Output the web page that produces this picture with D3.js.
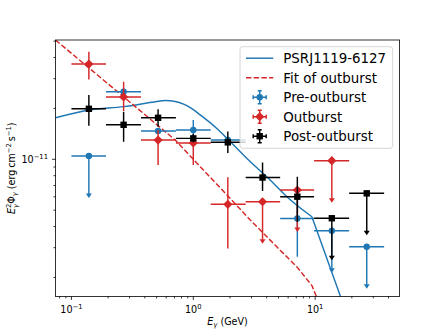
<!DOCTYPE html>
<html>
<head>
  <meta charset="utf-8">
  <script src="https://cdn.jsdelivr.net/npm/d3@7/dist/d3.min.js"></script>
  <style>
    body { margin: 0; background: #fff; }
    text { font-family: "DejaVu Sans", sans-serif; fill: #000; }
  </style>
</head>
<body>
<svg id="chart" width="444" height="333"></svg>
<script>
  // energy bins (GeV)
  var binCenter = [0.139, 0.268, 0.514, 1.00, 1.92, 3.70, 7.14, 13.7, 26.5];
  var binLo     = [0.100, 0.192, 0.372, 0.720, 1.39, 2.69, 5.16, 9.80, 19.0];
  var binHi     = [0.192, 0.372, 0.720, 1.39, 2.69, 5.16, 9.80, 19.0, 36.8];

  // pulsar model curve  [E, E^2 Phi]
  var modelCurve = [[0.074, 1.76e-11], [0.139, 1.96e-11], [0.268, 2.05e-11], [0.489, 2.19e-11],
                    [0.589, 2.23e-11], [0.711, 2.20e-11], [0.832, 2.12e-11], [0.945, 2.02e-11],
                    [1.14, 1.83e-11], [1.56, 1.52e-11], [1.95, 1.30e-11], [2.84, 9.9e-12],
                    [4.27, 7.55e-12], [5.86, 6.01e-12], [9.4, 4.57e-12]];
  var modelTail  = [[9.4, 4.57e-12], [16.0, 1.57e-12], [19.4, 1.05e-12]];

  // fit of the outburst
  var fitCurve = [[0.074, 5.08e-11], [0.2296, 2.57e-11], [0.711, 1.30e-11], [1.14, 9.04e-12],
                  [1.89, 6.15e-12], [2.93, 4.38e-12], [5.16, 2.90e-12], [7.08, 2.31e-12], [9.4, 1.79e-12]];
  var fitTail  = [[9.4, 1.79e-12], [16.0, 7.1e-13]];

  // rows: [bin, flux, flux high, flux low, upper limit]
  var preOutburst = [
    [0, 1.046e-11, null, 6.23e-12, 1],
    [1, 2.51e-11, 2.64e-11, 2.40e-11, 0],
    [2, 1.47e-11, 1.53e-11, 1.41e-11, 0],
    [3, 1.49e-11, 1.71e-11, 1.32e-11, 0],
    [4, 1.30e-11, 1.35e-11, 1.25e-11, 0],
    [6, 4.47e-12, 5.73e-12, 2.65e-12, 0],
    [7, 3.78e-12, null, 2.25e-12, 1],
    [8, 3.04e-12, null, 1.81e-12, 1]
  ];
  var outburst = [
    [0, 3.66e-11, 4.33e-11, 2.97e-11, 0],
    [1, 2.34e-11, 2.88e-11, 1.93e-11, 0],
    [2, 1.30e-11, 1.49e-11, 9.25e-12, 0],
    [3, 1.25e-11, 1.39e-11, 9.25e-12, 0],
    [4, 5.42e-12, 7.82e-12, 2.97e-12, 0],
    [5, 5.61e-12, null, 3.34e-12, 1],
    [6, 6.58e-12, null, 3.92e-12, 1],
    [7, 9.81e-12, null, 5.85e-12, 1]
  ];
  var postOutburst = [
    [0, 1.99e-11, 2.40e-11, 1.58e-11, 0],
    [1, 1.60e-11, 1.91e-11, 1.27e-11, 0],
    [2, 1.76e-11, 1.98e-11, 1.56e-11, 0],
    [3, 1.33e-11, 1.41e-11, 1.26e-11, 0],
    [4, 1.26e-11, 1.46e-11, 1.09e-11, 0],
    [5, 7.80e-12, 9.57e-12, 6.49e-12, 0],
    [6, 6.01e-12, 7.89e-12, 4.26e-12, 0],
    [7, 4.48e-12, null, 2.67e-12, 1],
    [8, 6.29e-12, null, 3.75e-12, 1]
  ];

  var xTicks = [0.1, 1, 10];
  var xTickExp = ["\u22121", "0", "1"];
  var yTicks = [1e-11];
  var yTickExp = ["\u221211"];

  var blue = "#1f77b4", red = "#d62728", black = "#000000";

  var W = 444, H = 333;
  var pL = 55.5, pR = 399.6, pT = 40, pB = 296.4;
  var svg = d3.select("#chart");
  svg.append("rect").attr("width", W).attr("height", H).attr("fill", "#fff");

  var x = d3.scaleLog().domain([0.074, 49.3]).range([pL, pR]);
  var y = d3.scaleLog().domain([1.545e-12, 5.08e-11]).range([pB, pT]);

  svg.append("clipPath").attr("id", "clip")
    .append("rect").attr("x", pL).attr("y", pT)
    .attr("width", pR - pL).attr("height", pB - pT);

  // minor ticks
  function minors(lo, hi) {
    var out = [];
    for (var e = Math.floor(Math.log10(lo)); e <= Math.ceil(Math.log10(hi)); e++) {
      for (var m = 2; m <= 9; m++) {
        var v = m * Math.pow(10, e);
        if (v >= lo && v <= hi) out.push(v);
      }
    }
    return out;
  }
  var xMinor = minors(0.074, 49.3), yMinor = minors(1.545e-12, 5.08e-11);

  var axes = svg.append("g").attr("stroke", "#000").attr("stroke-width", 0.8);
  axes.selectAll(".xmaj").data(xTicks).enter().append("line")
    .attr("x1", d => x(d)).attr("x2", d => x(d)).attr("y1", pB).attr("y2", pB + 3.5);
  axes.selectAll(".xmin").data(xMinor).enter().append("line")
    .attr("x1", d => x(d)).attr("x2", d => x(d)).attr("y1", pB).attr("y2", pB + 2);
  axes.selectAll(".ymaj").data(yTicks).enter().append("line")
    .attr("y1", d => y(d)).attr("y2", d => y(d)).attr("x1", pL).attr("x2", pL - 3.5);
  axes.selectAll(".ymin").data(yMinor).enter().append("line")
    .attr("y1", d => y(d)).attr("y2", d => y(d)).attr("x1", pL).attr("x2", pL - 2);

  // tick labels
  var xl = svg.selectAll(".xlab").data(xTicks).enter().append("text")
    .attr("x", d => x(d)).attr("y", pB + 16.5).attr("text-anchor", "middle")
    .style("font-size", "9.6px");
  xl.append("tspan").text("10");
  xl.append("tspan").attr("dy", -4).style("font-size", "6.8px").text((d, i) => xTickExp[i]);

  var yl = svg.selectAll(".ylab").data(yTicks).enter().append("text")
    .attr("x", pL - 7.5).attr("y", d => y(d) + 3.5).attr("text-anchor", "end")
    .style("font-size", "9.6px");
  yl.append("tspan").text("10");
  yl.append("tspan").attr("dy", -4).style("font-size", "6.8px").text((d, i) => yTickExp[i]);

  // axis labels
  var xlabel = svg.append("text").attr("x", (pL + pR) / 2).attr("y", 325)
    .attr("text-anchor", "middle").style("font-size", "9.6px");
  xlabel.append("tspan").style("font-style", "italic").text("E");
  xlabel.append("tspan").style("font-style", "italic").style("font-size", "6.8px").attr("dy", 2).text("\u03b3");
  xlabel.append("tspan").attr("dy", -2).text(" (GeV)");

  var ylabel = svg.append("text")
    .attr("transform", "translate(15," + ((pT + pB) / 2) + ") rotate(-90)")
    .attr("text-anchor", "middle").style("font-size", "9.6px");
  ylabel.append("tspan").style("font-style", "italic").text("E");
  ylabel.append("tspan").style("font-size", "6.8px").attr("dy", -4).text("2");
  ylabel.append("tspan").style("font-size", "6.8px").style("font-style", "italic")
    .attr("dx", -4.3).attr("dy", 6.5).text("\u03b3");
  ylabel.append("tspan").attr("dy", -2.5).text("\u03a6");
  ylabel.append("tspan").style("font-size", "6.8px").style("font-style", "italic")
    .attr("dy", 2).text("\u03b3");
  ylabel.append("tspan").attr("dy", -2).text(" (erg\u2009cm");
  ylabel.append("tspan").style("font-size", "6.8px").attr("dy", -4).text("\u22122");
  ylabel.append("tspan").attr("dy", 4).text("\u2009s");
  ylabel.append("tspan").style("font-size", "6.8px").attr("dy", -4).text("\u22121");
  ylabel.append("tspan").attr("dy", 4).text(")");

  // curves
  var plot = svg.append("g").attr("clip-path", "url(#clip)");
  var smooth = d3.line().x(d => x(d[0])).y(d => y(d[1])).curve(d3.curveMonotoneX);
  var straight = d3.line().x(d => x(d[0])).y(d => y(d[1]));

  plot.append("path").datum(modelCurve).attr("d", smooth)
    .attr("fill", "none").attr("stroke", blue).attr("stroke-width", 1.45);
  plot.append("path").datum(modelTail).attr("d", straight)
    .attr("fill", "none").attr("stroke", blue).attr("stroke-width", 1.45);
  plot.append("path").datum(fitCurve.concat(fitTail.slice(1))).attr("d", straight)
    .attr("fill", "none").attr("stroke", red).attr("stroke-width", 1.45)
    .attr("stroke-dasharray", "5.4,2.3");

  function marker(sel, kind, color, s) {
    if (kind === "circle") {
      sel.append("circle").attr("r", s / 2).attr("fill", color);
    } else if (kind === "square") {
      sel.append("rect").attr("x", -s / 2).attr("y", -s / 2).attr("width", s).attr("height", s).attr("fill", color);
    } else {
      var h = s * 0.72;
      sel.append("path").attr("d", "M0," + (-h) + "L" + h + ",0L0," + h + "L" + (-h) + ",0Z").attr("fill", color);
    }
  }

  function errorSeries(rows, color, kind) {
    var g = plot.append("g");
    var pts = g.selectAll("g").data(rows).enter().append("g");
    pts.append("line")
      .attr("x1", d => x(binLo[d[0]])).attr("x2", d => x(binHi[d[0]]))
      .attr("y1", d => y(d[1])).attr("y2", d => y(d[1]))
      .attr("stroke", color).attr("stroke-width", 1.45);
    pts.append("line")
      .attr("x1", d => x(binCenter[d[0]])).attr("x2", d => x(binCenter[d[0]]))
      .attr("y1", d => d[4] ? y(d[1]) : y(d[2])).attr("y2", d => y(d[3]))
      .attr("stroke", color).attr("stroke-width", 1.45);
    pts.filter(d => d[4]).append("path")
      .attr("d", d => {
        var cx = x(binCenter[d[0]]), cy = y(d[3]);
        return "M" + (cx - 3) + "," + (cy - 0.5) + "L" + (cx + 3) + "," + (cy - 0.5) + "L" + cx + "," + (cy + 4) + "Z";
      })
      .attr("fill", color);
    pts.append("g")
      .attr("transform", d => "translate(" + x(binCenter[d[0]]) + "," + y(d[1]) + ")")
      .each(function () { marker(d3.select(this), kind, color, 6.4); });
  }

  errorSeries(preOutburst, blue, "circle");
  errorSeries(outburst, red, "diamond");
  errorSeries(postOutburst, black, "square");

  // frame
  svg.append("rect").attr("x", pL).attr("y", pT)
    .attr("width", pR - pL).attr("height", pB - pT)
    .attr("fill", "none").attr("stroke", "#000").attr("stroke-width", 0.8);

  // legend
  var leg = svg.append("g");
  leg.append("rect").attr("x", 240).attr("y", 46.7).attr("width", 152.7).attr("height", 101.6)
    .attr("rx", 2.7).attr("fill", "#fff").attr("fill-opacity", 0.8)
    .attr("stroke", "#ccc").attr("stroke-width", 0.8);
  var entries = [
    { label: "PSRJ1119-6127", type: "line", color: blue },
    { label: "Fit of outburst", type: "dash", color: red },
    { label: "Pre-outburst", type: "err", color: blue, kind: "circle" },
    { label: "Outburst", type: "err", color: red, kind: "diamond" },
    { label: "Post-outburst", type: "err", color: black, kind: "square" }
  ];
  entries.forEach(function (e, i) {
    var ey = 58.2 + i * 19.5;
    var eg = leg.append("g");
    if (e.type !== "err") {
      eg.append("line").attr("x1", 246).attr("x2", 273.3).attr("y1", ey).attr("y2", ey)
        .attr("stroke", e.color).attr("stroke-width", 1.45)
        .attr("stroke-dasharray", e.type === "dash" ? "5.4,2.3" : null);
    } else {
      var cx = 259.7, r = 6.5;
      var p = "M" + (cx - r) + "," + ey + "H" + (cx + r) + "M" + cx + "," + (ey - r) + "V" + (ey + r) +
        "M" + (cx - r) + "," + (ey - 2) + "V" + (ey + 2) + "M" + (cx + r) + "," + (ey - 2) + "V" + (ey + 2) +
        "M" + (cx - 2) + "," + (ey - r) + "H" + (cx + 2) + "M" + (cx - 2) + "," + (ey + r) + "H" + (cx + 2);
      eg.append("path").attr("d", p).attr("stroke", e.color).attr("stroke-width", 1.45).attr("fill", "none");
      var mg = eg.append("g").attr("transform", "translate(" + cx + "," + ey + ")");
      marker(mg, e.kind, e.color, 6.4);
    }
    eg.append("text").attr("x", 283.3).attr("y", ey).attr("dy", "0.36em")
      .style("font-size", "13.4px").text(e.label);
  });
</script>
</body>
</html>
